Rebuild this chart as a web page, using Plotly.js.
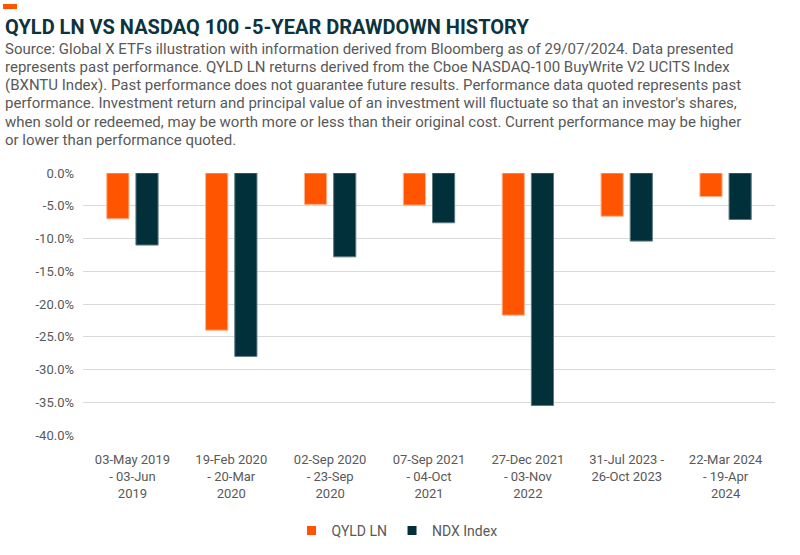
<!DOCTYPE html>
<html>
<head>
<meta charset="utf-8">
<script src="https://cdn.plot.ly/plotly-3.0.1.min.js"></script>
<style>
  html, body { margin: 0; padding: 0; background: #ffffff; }
  #chart { width: 800px; height: 555px; }
</style>
</head>
<body>
<div id="chart"></div>
<script>
const categories = [
  "03-May 2019<br>- 03-Jun<br>2019",
  "19-Feb 2020<br>- 20-Mar<br>2020",
  "02-Sep 2020<br>- 23-Sep<br>2020",
  "07-Sep 2021<br>- 04-Oct<br>2021",
  "27-Dec 2021<br>- 03-Nov<br>2022",
  "31-Jul 2023 -<br>26-Oct 2023",
  "22-Mar 2024<br>- 19-Apr<br>2024"
];
const qyldValues = [-7.0, -24.0, -4.8, -4.9, -21.7, -6.6, -3.6];
const ndxValues = [-11.0, -28.0, -12.8, -7.6, -35.5, -10.4, -7.1];
const seriesNames = ["QYLD LN", "NDX Index"];
const yTickVals = [0, -5, -10, -15, -20, -25, -30, -35, -40];
const yTickText = ["0.0%", "-5.0%", "-10.0%", "-15.0%", "-20.0%", "-25.0%", "-30.0%", "-35.0%", "-40.0%"];

const titleText = "QYLD LN VS NASDAQ 100 -5-YEAR DRAWDOWN HISTORY";
const subtitleLines = [
  "Source: Global X ETFs illustration with information derived from Bloomberg as of 29/07/2024. Data presented",
  "represents past performance. QYLD LN returns derived from the Cboe NASDAQ-100 BuyWrite V2 UCITS Index",
  "(BXNTU Index). Past performance does not guarantee future results. Performance data quoted represents past",
  "performance. Investment return and principal value of an investment will fluctuate so that an investor's shares,",
  "when sold or redeemed, may be worth more or less than their original cost. Current performance may be higher",
  "or lower than performance quoted."
];

const FONT = "Roboto, 'Liberation Sans', sans-serif";
const ORANGE = "#FF5500";
const DARK = "#02303A";

const PLOT_L = 83, PLOT_T = 173, PLOT_W = 692, PLOT_H = 262;
function px(x) { return (x - PLOT_L) / PLOT_W; }
function py(y) { return (PLOT_T + PLOT_H - y) / PLOT_H; }

const traces = [
  {
    type: "bar", name: seriesNames[0], x: categories, y: qyldValues,
    marker: { color: ORANGE, line: { color: "#FFB08A", width: 1 } },
    hoverinfo: "skip", showlegend: false
  },
  {
    type: "bar", name: seriesNames[1], x: categories, y: ndxValues,
    marker: { color: DARK, line: { color: "#5C7A80", width: 1 } },
    hoverinfo: "skip", showlegend: false
  },
  {
    type: "scatter", mode: "markers", name: seriesNames[0], x: [categories[0]], y: [null],
    marker: { symbol: "square", size: 9, color: ORANGE }, hoverinfo: "skip", showlegend: true
  },
  {
    type: "scatter", mode: "markers", name: seriesNames[1], x: [categories[0]], y: [null],
    marker: { symbol: "square", size: 9, color: DARK }, hoverinfo: "skip", showlegend: true
  }
];

const annotations = [
  {
    xref: "paper", yref: "paper", x: px(3), y: py(27), xanchor: "left", yanchor: "middle",
    text: "<b>" + titleText + "</b>", showarrow: false, align: "left",
    font: { family: FONT, size: 20, color: "#0B3440" }
  }
];
const lineCenters = [48.5, 66.8, 85.1, 103.4, 121.7, 140];
subtitleLines.forEach(function (t, i) {
  annotations.push({
    xref: "paper", yref: "paper", x: px(3), y: py(lineCenters[i]), xanchor: "left", yanchor: "middle",
    text: t, showarrow: false, align: "left",
    font: { family: FONT, size: 15, color: "#595959" }
  });
});

const layout = {
  width: 800, height: 555,
  paper_bgcolor: "#ffffff", plot_bgcolor: "#ffffff",
  margin: { l: PLOT_L, r: 800 - PLOT_L - PLOT_W, t: PLOT_T, b: 555 - PLOT_T - PLOT_H, autoexpand: false },
  font: { family: FONT, color: "#595959", size: 13 },
  barmode: "group",
  bargap: 0.41,
  bargroupgap: 0.24,
  showlegend: true,
  legend: {
    orientation: "h", x: px(397), xanchor: "center",
    yref: "container", y: 1 - 531 / 555, yanchor: "middle",
    font: { family: FONT, size: 14, color: "#595959" },
    itemwidth: 30, traceorder: "normal", tracegroupgap: 0
  },
  xaxis: {
    type: "category", showgrid: false, zeroline: false, showline: false, automargin: false,
    ticks: "", tickfont: { family: FONT, size: 13, color: "#595959" },
    tickangle: 0, ticklabelstandoff: 15
  },
  yaxis: {
    range: [-40, 0], tickvals: yTickVals, ticktext: yTickText, automargin: false,
    showgrid: true, gridcolor: "#D9D9D9", gridwidth: 1,
    zeroline: false, showline: false, ticks: "",
    ticklabelstandoff: 8,
    tickfont: { family: FONT, size: 13, color: "#595959" }
  },
  shapes: [
    { type: "rect", xref: "paper", yref: "paper",
      x0: px(3), x1: px(17), y0: py(9), y1: py(4),
      fillcolor: ORANGE, line: { width: 0 } }
  ],
  annotations: annotations
};

Plotly.newPlot("chart", traces, layout, { displayModeBar: false, staticPlot: true });
</script>
</body>
</html>
